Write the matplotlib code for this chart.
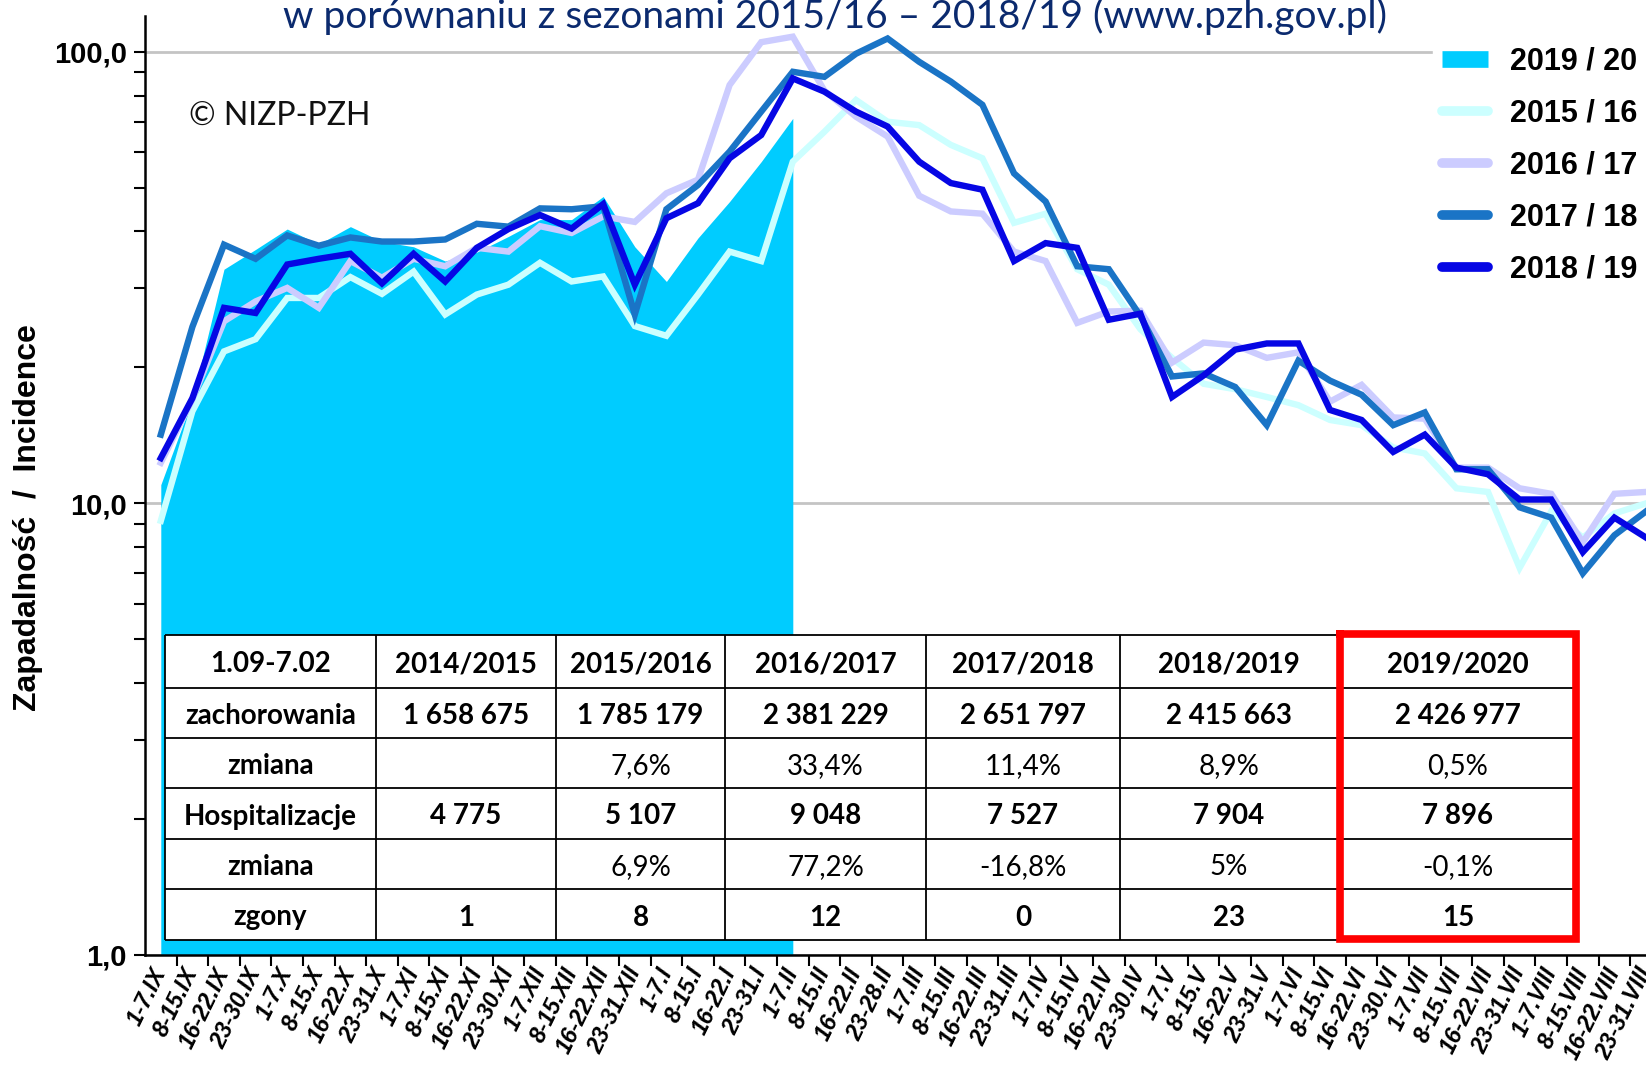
import matplotlib.pyplot as plt
from matplotlib.lines import Line2D
import numpy as np

weeks = ['1-7.IX', '8-15.IX', '16-22.IX', '23-30.IX', '1-7.X', '8-15.X', '16-22.X', '23-31.X',
         '1-7.XI', '8-15.XI', '16-22.XI', '23-30.XI', '1-7.XII', '8-15.XII', '16-22.XII', '23-31.XII',
         '1-7.I', '8-15.I', '16-22.I', '23-31.I', '1-7.II', '8-15.II', '16-22.II', '23-28.II',
         '1-7.III', '8-15.III', '16-22.III', '23-31.III', '1-7.IV', '8-15.IV', '16-22.IV', '23-30.IV',
         '1-7.V', '8-15.V', '16-22.V', '23-31.V', '1-7.VI', '8-15.VI', '16-22.VI', '23-30.VI',
         '1-7.VII', '8-15.VII', '16-22.VII', '23-31.VII', '1-7.VIII', '8-15.VIII', '16-22.VIII', '23-31.VIII']

s2019_20 = [11.0, 17.0, 33.0, 36.5, 40.5, 37.5, 41.0, 38.0, 37.0, 34.4, 36.0, 39.0, 42.5, 42.5,
            47.8, 37.0, 31.0, 38.7, 46.6, 57.1, 71.2]

s2015_16 = [9.15, 16.0, 21.7, 23.1, 28.5, 28.5, 31.7, 29.1, 32.6, 26.2, 29.0, 30.5, 34.1, 31.0,
            31.8, 24.7, 23.5, 29.0, 36.1, 34.4, 57.1, 66.5, 78.2, 70.0, 68.8, 62.2, 58.1, 41.8,
            43.8, 33.0, 30.5, 24.3, 21.0, 18.4, 17.9, 17.2, 16.5, 15.3, 14.9, 13.3, 12.9, 10.8,
            10.6, 7.2, 9.6, 8.4, 9.5, 10.0]

s2016_17 = [12.3, 17.0, 25.3, 28.0, 30.0, 27.1, 34.4, 31.6, 34.8, 33.5, 36.8, 36.1, 41.1, 39.7,
            43.2, 42.0, 48.6, 52.1, 84.4, 105.0, 108.0, 82.0, 71.8, 64.9, 48.0, 44.3, 43.8, 36.1,
            34.4, 25.1, 26.6, 26.7, 20.5, 22.7, 22.4, 21.0, 21.6, 16.8, 18.3, 15.5, 15.4, 12.0,
            12.0, 10.8, 10.5, 8.2, 10.5, 10.6]

s2017_18 = [14.2, 24.6, 37.4, 34.8, 39.2, 37.2, 38.8, 38.0, 38.0, 38.4, 41.6, 41.0, 45.0, 44.8,
            45.5, 26.2, 44.8, 50.7, 60.1, 73.7, 90.3, 88.0, 99.0, 107.0, 95.0, 85.9, 76.3, 53.8,
            46.6, 33.5, 33.0, 26.0, 19.1, 19.4, 18.1, 14.9, 20.7, 18.7, 17.4, 14.9, 15.9, 11.9,
            11.9, 9.8, 9.3, 7.0, 8.5, 9.6]

s2018_19 = [12.6, 17.1, 27.1, 26.4, 33.8, 34.8, 35.7, 30.7, 35.7, 31.0, 36.8, 40.5, 43.5, 40.6,
            46.0, 30.5, 42.8, 46.2, 58.1, 65.4, 87.3, 81.6, 73.7, 68.3, 57.1, 51.2, 49.5, 34.4,
            37.7, 36.8, 25.5, 26.3, 17.2, 19.2, 21.9, 22.6, 22.6, 16.1, 15.3, 13.0, 14.2, 12.0,
            11.6, 10.2, 10.2, 7.8, 9.3, 8.4]

series_labels = ['2019 / 20', '2015 / 16', '2016 / 17', '2017 / 18', '2018 / 19']
series_colors = ['#00CCFF', '#CCFFFF', '#CCCCFF', '#1A74C6', '#0606E4']

table_header = ['1.09-7.02', '2014/2015', '2015/2016', '2016/2017', '2017/2018', '2018/2019', '2019/2020']
row_names = ['zachorowania', 'zmiana', 'Hospitalizacje', 'zmiana', 'zgony']
row_values = [
    ['1 658 675', '1 785 179', '2 381 229', '2 651 797', '2 415 663', '2 426 977'],
    ['', '7,6%', '33,4%', '11,4%', '8,9%', '0,5%'],
    ['4 775', '5 107', '9 048', '7 527', '7 904', '7 896'],
    ['', '6,9%', '77,2%', '-16,8%', '5%', '-0,1%'],
    ['1', '8', '12', '0', '23', '15'],
]
row_bold = [True, False, True, False, True]

NARROW = ['Liberation Sans Narrow', 'Liberation Sans', 'DejaVu Sans']
ARIAL = ['Liberation Sans', 'DejaVu Sans']
CALI = ['Lato', 'DejaVu Sans']

W, H = 1646, 1069


def main():
    fig = plt.figure(figsize=(W / 100, H / 100), dpi=100)
    ax = fig.add_axes([145 / W, 1 - 955 / H, 1 - 145 / W, (955 - 16) / H])

    x = np.arange(len(weeks))
    n19 = len(s2019_20)
    ax.fill_between(x[:n19], 1, s2019_20, color=series_colors[0], lw=0, zorder=2)
    for vals, col in zip([s2015_16, s2016_17, s2017_18, s2018_19], series_colors[1:]):
        ax.plot(x, vals, color=col, lw=4.6, zorder=3, solid_joinstyle='miter')

    ax.set_yscale('log')
    ax.set_ylim(1, 120)
    ax.set_xlim(-0.5, 46.85)
    ax.set_yticks([1, 10, 100], labels=['1,0', '10,0', '100,0'])
    ax.yaxis.grid(True, which='major', color='#C4C4C4', lw=2, zorder=1)
    ax.set_axisbelow(True)
    for lab in ax.get_yticklabels():
        lab.set_fontfamily(ARIAL)
        lab.set_fontweight('bold')
        lab.set_fontsize(21)
    ax.tick_params(axis='y', which='both', direction='out', length=8, width=1.5, pad=5)

    ax.set_xticks(x, labels=weeks)
    ax.set_xticks(x[:-1] + 0.5, minor=True)
    ax.tick_params(axis='x', which='major', length=0, pad=10)
    ax.tick_params(axis='x', which='minor', direction='out', length=8, width=1.5)
    for lab in ax.get_xticklabels():
        lab.set_fontfamily(NARROW)
        lab.set_fontweight('bold')
        lab.set_fontstyle('italic')
        lab.set_fontsize(16.5)
        lab.set_rotation(64)
        lab.set_ha('right')
        lab.set_rotation_mode('anchor')
        lab.set_va('center')

    for side in ['top', 'right']:
        ax.spines[side].set_visible(False)
    ax.spines['left'].set_linewidth(1.8)
    ax.spines['bottom'].set_linewidth(1.8)

    ax.set_ylabel('Zapadalność  /  Incidence', fontsize=23, fontweight='bold', family=NARROW)
    ax.yaxis.set_label_coords(-0.068, 0.466)

    handles = [Line2D([], [], color=series_colors[0], lw=12, solid_capstyle='butt')]
    handles += [Line2D([], [], color=c, lw=7, solid_capstyle='round') for c in series_colors[1:]]
    leg = ax.legend(handles, series_labels, loc='upper left', bbox_to_anchor=(1418 / W, 1 - 22 / H),
                    bbox_transform=fig.transFigure, frameon=True, fancybox=False, framealpha=1,
                    facecolor='white', edgecolor='white', handlelength=1.5, handletextpad=0.7,
                    labelspacing=0.72, borderpad=0.3, prop={'family': NARROW, 'weight': 'bold', 'size': 22})
    leg.set_zorder(5)

    fig.text(835 / W, 1 - 28 / H, 'w porównaniu z sezonami 2015/16 – 2018/19 (www.pzh.gov.pl)',
             ha='center', va='baseline', fontsize=28, color='#0B2A6E', family=CALI)
    fig.text(189 / W, 1 - 125 / H, '© NIZP-PZH', ha='left', va='baseline', fontsize=23,
             color='#111111', family=CALI)

    # table drawn in pixel coordinates on an overlay
    tab = fig.add_axes([0, 0, 1, 1])
    tab.set_xlim(0, W)
    tab.set_ylim(H, 0)
    tab.axis('off')
    cols = [165, 376, 556, 725, 926, 1120, 1338, 1578]
    rows = [635, 688, 738, 788, 839, 889, 940]
    tab.fill_between([cols[0], cols[-1]], rows[0], rows[-1], color='white', lw=0)
    tab.hlines(rows, cols[0], cols[-1], color='black', lw=1.3)
    tab.vlines(cols, rows[0], rows[-1], color='black', lw=1.3)

    for j, txt in enumerate(table_header):
        tab.text((cols[j] + cols[j + 1]) / 2, (rows[0] + rows[1]) / 2 + 3, txt, ha='center', va='center',
                 fontsize=20, fontweight='bold', family=CALI)
    for r, (name, vals, bold) in enumerate(zip(row_names, row_values, row_bold)):
        yc = (rows[r + 1] + rows[r + 2]) / 2 + 3
        tab.text((cols[0] + cols[1]) / 2, yc, name, ha='center', va='center',
                 fontsize=20, fontweight='bold', family=CALI)
        for j, v in enumerate(vals):
            tab.text((cols[j + 1] + cols[j + 2]) / 2, yc, v, ha='center', va='center',
                     fontsize=20, fontweight='bold' if bold else 'normal', family=CALI)

    tab.plot([1340, 1576, 1576, 1340, 1340], [634, 634, 939, 939, 634], color='#FF0000', lw=5.5,
             solid_joinstyle='miter')

    plt.savefig('out.png', dpi=100)


if __name__ == '__main__':
    main()
